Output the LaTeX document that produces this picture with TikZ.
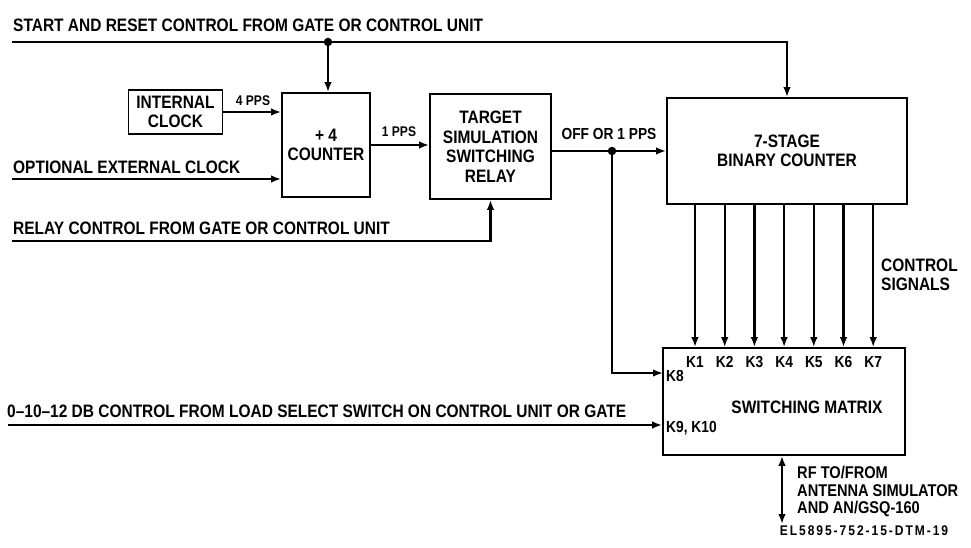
\documentclass[tikz,border=0pt]{standalone}
\usepackage{fontspec}
\setmainfont{Liberation Sans}[FakeStretch=0.86]
\newfontfamily\elfont{Liberation Sans}[FakeStretch=0.86,LetterSpace=14]
\usetikzlibrary{arrows.meta}
\tikzset{
  wire/.style={line width=2.2pt},
  arr/.style={wire,-{Latex[length=10pt,width=7.5pt]}},
  dbl/.style={wire,{Latex[length=10pt,width=7.5pt]}-{Latex[length=10pt,width=7.5pt]}},
  blk/.style={draw,line width=1.7pt,inner sep=0pt,align=center,font=\bfseries\fontsize{18}{19.5}\selectfont},
  lbl/.style={inner sep=0pt,font=\bfseries\fontsize{18}{18.5}\selectfont},
  sm/.style={inner sep=0pt,font=\bfseries\fontsize{14}{15}\selectfont},
  kl/.style={inner sep=0pt,font=\bfseries\fontsize{16}{17}\selectfont},
  rfl/.style={inner sep=0pt,font=\bfseries\fontsize{17}{17.5}\selectfont},
  dot/.style={circle,fill,inner sep=0pt,minimum size=8.5pt}
}
\begin{document}
\begin{tikzpicture}[x=1pt,y=-1pt]
\useasboundingbox (0,0) rectangle (971,548);
% blocks
\node[blk,minimum width=94pt,minimum height=44pt] (clk) at (175.5,112) {INTERNAL\\CLOCK};
\node[blk,minimum width=88pt,minimum height=104pt] (cnt) at (326,145) {+ 4\\COUNTER};
\node[blk,minimum width=121pt,minimum height=105pt] (rly) at (490.5,146.5) {TARGET\\SIMULATION\\SWITCHING\\RELAY};
\node[blk,minimum width=240pt,minimum height=106pt] (bin) at (787,151) {7-STAGE\\BINARY COUNTER};
\node[blk,minimum width=242pt,minimum height=107pt] (mat) at (784,401.5) {};
% start/reset line
\coordinate (s0) at (12,42);
\node[dot] (j1) at (328,42) {};
\draw[wire] (s0) -- (j1.center);
\draw[arr] (j1.center) -- (j1 |- cnt.north);
\draw[arr] (j1.center) -| (bin.north);
\node[lbl,anchor=west] (t1) at (13,25) {START AND RESET CONTROL FROM GATE OR CONTROL UNIT};
% internal clock
\draw[arr] (clk.east) -- (clk.east -| cnt.west);
\node[sm] (p4) at (253,101) {4 PPS};
% external clock
\coordinate (e0) at (12,179);
\draw[arr] (e0) -- (e0 -| cnt.west);
\node[lbl,anchor=west] (t2) at (13,167) {OPTIONAL EXTERNAL CLOCK};
% 1 pps
\draw[arr] (cnt.east) -- (cnt.east -| rly.west);
\node[sm] (p1) at (399,132) {1 PPS};
% relay control
\coordinate (r0) at (12,241);
\draw[arr] (r0) -| (rly.south);
\node[lbl,anchor=west] (t3) at (13,228) {RELAY CONTROL FROM GATE OR CONTROL UNIT};
% off or 1 pps
\node[dot] (j2) at (612,151) {};
\draw[wire] (rly.east |- j2) -- (j2.center);
\draw[arr] (j2.center) -- (j2 -| bin.west);
\node[kl] (t4) at (609,134) {OFF OR 1 PPS};
\coordinate (k8) at (663,373);
\draw[arr] (j2.center) |- (k8);
% K1..K7
\foreach \i in {0,...,6}{
  \coordinate (kx\i) at ({695+\i*29.7},0);
  \draw[arr] (kx\i |- bin.south) -- (kx\i |- mat.north);
  \pgfmathtruncatemacro{\kn}{\i+1}
  \node[kl] (kn\i) at ({695+\i*29.7},362) {K\kn};
}
\node[lbl,anchor=west,align=left] (cs) at (881,275) {CONTROL\\SIGNALS};
\node[kl,anchor=west] (k8l) at (666,376) {K8};
\node[kl,anchor=west] (k9l) at (666,428) {K9, K10};
\node[lbl] (sw) at (807,407) {SWITCHING MATRIX};
% K9 K10 line
\coordinate (d0) at (8,425);
\draw[arr] (d0) -- (d0 -| mat.west);
\node[lbl,anchor=west] (t5) at (7,411) {0--10--12 DB CONTROL FROM LOAD SELECT SWITCH ON CONTROL UNIT OR GATE};
% RF
\coordinate (rf) at (782,524);
\draw[dbl] (rf |- mat.south) -- (rf);
\node[rfl,anchor=west,align=left] (rft) at (797,492) {RF TO/FROM\\ANTENNA SIMULATOR\\AND AN/GSQ-160};
\node[inner sep=0pt,font=\elfont\bfseries\fontsize{14}{15}\selectfont] (el) at (864,531) {EL5895-752-15-DTM-19};
\end{tikzpicture}
\end{document}
